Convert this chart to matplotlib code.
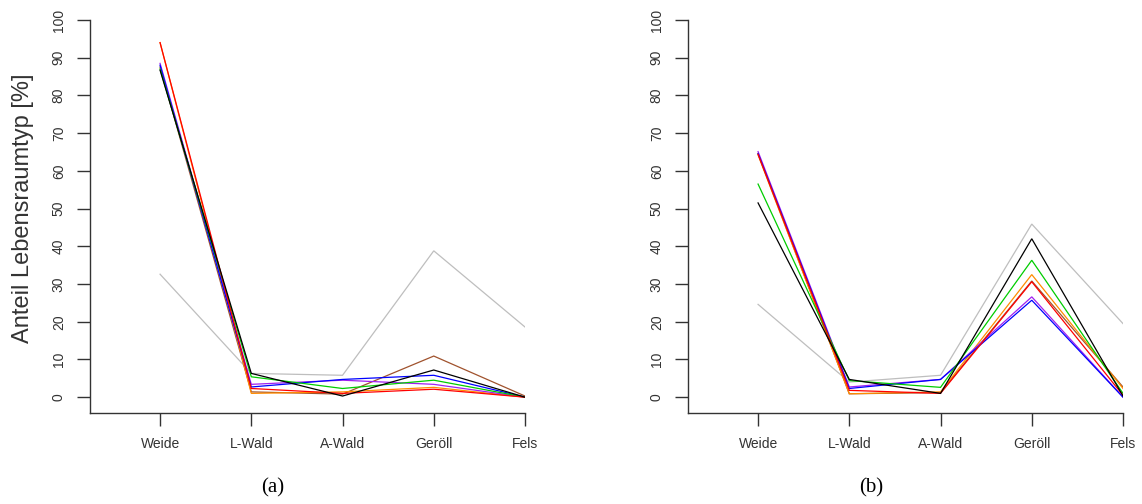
import matplotlib
matplotlib.use('Agg')
import matplotlib.pyplot as plt

# habitat categories on the x axis
categories = ['Weide', 'L-Wald', 'A-Wald', 'Geröll', 'Fels']

# series colours (same order in both panels)
colors = ['#BEBEBE', '#A0522D', '#FF8C00', '#A020F0', '#0000FF', '#00CD00', '#FF0000', '#000000']

# panel (a) values, percent
a_gray   = [32.6, 6.3, 5.8, 38.8, 18.6]
a_brown  = [87.5, 1.4, 0.8, 10.9, 0.3]
a_orange = [94.0, 1.0, 1.4, 2.6, 0.0]
a_purple = [88.5, 3.4, 4.5, 3.4, 0.0]
a_blue   = [88.0, 2.7, 4.7, 5.8, 0.0]
a_green  = [87.0, 5.4, 2.3, 4.5, 0.0]
a_red    = [94.0, 2.3, 1.0, 2.1, 0.0]
a_black  = [86.7, 6.3, 0.3, 7.2, 0.0]

# panel (b) values, percent
b_gray   = [24.6, 4.0, 5.8, 45.9, 19.5]
b_brown  = [64.5, 0.9, 1.2, 30.8, 2.7]
b_orange = [64.2, 0.9, 1.4, 32.5, 2.3]
b_purple = [65.1, 2.7, 4.7, 26.6, 0.0]
b_blue   = [64.6, 2.3, 4.7, 25.7, 0.0]
b_green  = [56.5, 4.4, 2.6, 36.3, 1.0]
b_red    = [64.4, 1.8, 1.0, 30.6, 0.5]
b_black  = [51.5, 4.7, 1.0, 42.0, 0.3]

panel_a = [a_gray, a_brown, a_orange, a_purple, a_blue, a_green, a_red, a_black]
panel_b = [b_gray, b_brown, b_orange, b_purple, b_blue, b_green, b_red, b_black]

W, H = 1142, 504
fig = plt.figure(figsize=(W / 100, H / 100), dpi=100)

def make_panel(left_px, series, label):
    ax = fig.add_axes([left_px / W, (H - 413) / H, 435 / W, 393 / H])
    x = list(range(1, len(categories) + 1))
    for vals, col in zip(series, colors):
        ax.plot(x, vals, color=col, lw=0.9, solid_joinstyle='miter')
    ax.set_xlim(0.232, 5)
    ax.set_ylim(-4.2, 100)
    for side in ['top', 'right']:
        ax.spines[side].set_visible(False)
    for side in ['left', 'bottom']:
        ax.spines[side].set_color('#333333')
        ax.spines[side].set_linewidth(1.0)
    ax.set_xticks(x)
    ax.set_xticklabels(categories, family='Liberation Sans', fontsize=10, color='#333333')
    ax.set_yticks(range(0, 101, 10))
    ax.set_yticklabels([str(v) for v in range(0, 101, 10)], rotation=90, va='center',
                       family='Liberation Sans', fontsize=10, color='#333333')
    ax.tick_params(axis='both', length=9.4, width=1.0, color='#333333')
    ax.tick_params(axis='x', pad=8)
    ax.tick_params(axis='y', pad=8)
    fig.text((left_px + 183) / W, 1 - 488 / H, label, family='Liberation Serif',
             fontsize=15, ha='center', va='center')
    return ax

make_panel(90, panel_a, '(a)')
make_panel(688, panel_b, '(b)')

# shared y label, only on the left panel
fig.text(23 / W, 1 - 208 / H, 'Anteil Lebensraumtyp [%]', family='Liberation Sans',
         fontsize=17, color='#333333', rotation=90, ha='center', va='center')

fig.savefig('out.png', dpi=100)
